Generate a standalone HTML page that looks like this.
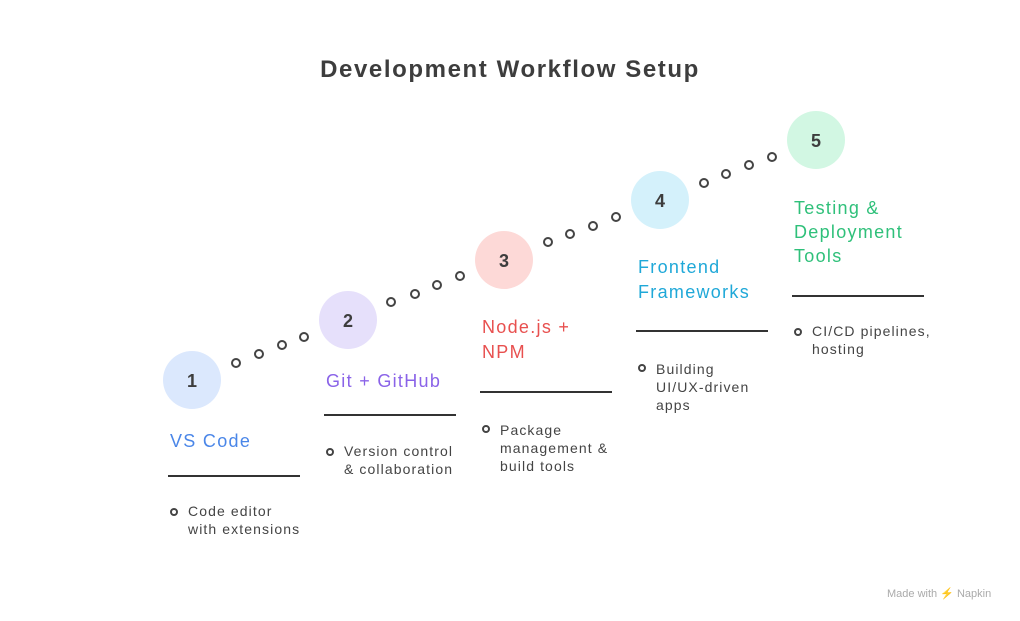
<!DOCTYPE html>
<html><head><style>body{margin:0;background:#fff}svg{display:block}</style></head><body>
<svg width="1020" height="621" xmlns="http://www.w3.org/2000/svg" font-family="'Liberation Sans', sans-serif">
<rect width="1020" height="621" fill="#fff"/>
<text x="510" y="77" text-anchor="middle" font-size="24" font-weight="bold" fill="#3d3d3d" letter-spacing="1.6">Development Workflow Setup</text>
<g fill="none" stroke="#444" stroke-width="2">
<circle cx="236" cy="363" r="4"/><circle cx="259" cy="354" r="4"/><circle cx="282" cy="345" r="4"/><circle cx="304" cy="337" r="4"/>
<circle cx="391" cy="302" r="4"/><circle cx="415" cy="294" r="4"/><circle cx="437" cy="285" r="4"/><circle cx="460" cy="276" r="4"/>
<circle cx="548" cy="242" r="4"/><circle cx="570" cy="234" r="4"/><circle cx="593" cy="226" r="4"/><circle cx="616" cy="217" r="4"/>
<circle cx="704" cy="183" r="4"/><circle cx="726" cy="174" r="4"/><circle cx="749" cy="165" r="4"/><circle cx="772" cy="157" r="4"/>
<circle cx="174" cy="512" r="3"/><circle cx="330" cy="452" r="3"/><circle cx="486" cy="429" r="3"/><circle cx="642" cy="368" r="3"/><circle cx="798" cy="332" r="3"/>
</g>
<circle cx="192" cy="380" r="29" fill="#dbe8fd"/>
<circle cx="348" cy="320" r="29" fill="#e6e0fb"/>
<circle cx="504" cy="260" r="29" fill="#fdd9d7"/>
<circle cx="660" cy="200" r="29" fill="#d4f1fb"/>
<circle cx="816" cy="140" r="29" fill="#d2f7e3"/>
<g font-size="18" font-weight="bold" fill="#3d3d3d" text-anchor="middle">
<text x="192" y="387">1</text><text x="348" y="327">2</text><text x="504" y="267">3</text><text x="660" y="207">4</text><text x="816" y="147">5</text>
</g>
<g stroke="#333" stroke-width="2">
<line x1="168" y1="476" x2="300" y2="476"/><line x1="324" y1="415" x2="456" y2="415"/><line x1="480" y1="392" x2="612" y2="392"/><line x1="636" y1="331" x2="768" y2="331"/><line x1="792" y1="296" x2="924" y2="296"/>
</g>
<g font-size="18" letter-spacing="1.3">
<text x="170" y="447" fill="#4a86e8">VS Code</text>
<text x="326" y="387" fill="#8a63e8">Git + GitHub</text>
<text x="482" y="333" fill="#e8504f">Node.js +</text><text x="482" y="358" fill="#e8504f">NPM</text>
<text x="638" y="273" fill="#1fa8d8">Frontend</text><text x="638" y="298" fill="#1fa8d8">Frameworks</text>
<text x="794" y="214" fill="#2fc07a">Testing &amp;</text><text x="794" y="238" fill="#2fc07a">Deployment</text><text x="794" y="262" fill="#2fc07a">Tools</text>
</g>
<g font-size="14" fill="#444" letter-spacing="1.1">
<text x="188" y="516">Code editor</text><text x="188" y="534">with extensions</text>
<text x="344" y="456">Version control</text><text x="344" y="474">&amp; collaboration</text>
<text x="500" y="435">Package</text><text x="500" y="453">management &amp;</text><text x="500" y="471">build tools</text>
<text x="656" y="374">Building</text><text x="656" y="392">UI/UX-driven</text><text x="656" y="410">apps</text>
<text x="812" y="336">CI/CD pipelines,</text><text x="812" y="354">hosting</text>
</g>
<text x="887" y="597" font-size="11" fill="#aaa">Made with ⚡ Napkin</text>
</svg>
</body></html>
